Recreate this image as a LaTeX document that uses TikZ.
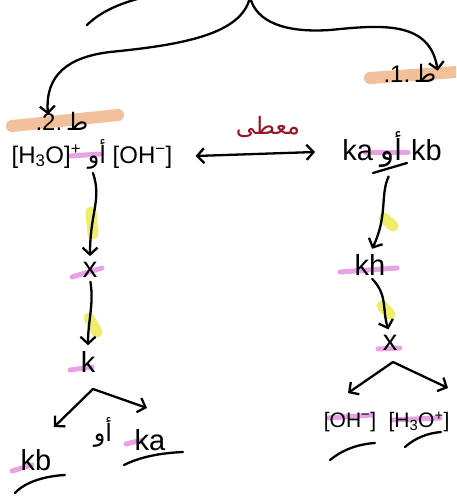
\documentclass[tikz,border=0pt]{standalone}
\usepackage{fontspec}
\setmainfont{Liberation Sans}
\newfontfamily\arabicfont[Script=Arabic]{DejaVu Sans}
\TeXXeTstate=1
\usetikzlibrary{arrows.meta}
\newcommand{\artxt}[1]{{\arabicfont\beginR #1\endR}}
\definecolor{hlpinkc}{RGB}{220,100,215}
\definecolor{hlyellowc}{RGB}{235,230,60}
\definecolor{hlorangec}{RGB}{235,150,90}
\definecolor{givenred}{RGB}{150,20,35}
\tikzset{
  ink/.style={draw=black, line width=2.3pt, line cap=round, line join=round},
  arr/.style={ink, -{Straight Barb[length=7pt,width=15pt]}},
  darr/.style={ink, {Straight Barb[length=7pt,width=15pt]}-{Straight Barb[length=7pt,width=15pt]}},
  lbl/.style={font=\fontsize{29}{33}\selectfont, inner sep=1pt},
  mlbl/.style={font=\fontsize{24}{28}\selectfont, inner sep=1pt},
  slbl/.style={font=\fontsize{21}{25}\selectfont, inner sep=1pt},
  hlpink/.style={draw=hlpinkc, line width=5pt, opacity=0.6, line cap=round},
  hlyellow/.style={draw=hlyellowc, line width=11pt, opacity=0.75, line cap=round},
  hlorange/.style={draw=hlorangec, line width=12pt, opacity=0.6, line cap=round},
}
\begin{document}
\begin{tikzpicture}[x=1pt,y=-1pt]
\useasboundingbox (0,0) rectangle (456,498);
\clip (0,0) rectangle (456,498);
\fill[white] (0,0) rectangle (456,498);

% highlights
\draw[hlorange] (12,126) -- (118,115);
\draw[hlorange] (370,78) -- (456,72);
\draw[hlpink] (70,156) -- (100,154);
\draw[hlpink] (365,152) -- (408,152);
\draw[hlpink] (72,277) -- (102,268);
\draw[hlpink] (70,370) -- (92,367);
\draw[hlpink] (12,471) -- (32,465);
\draw[hlpink] (126,444) -- (142,440);
\draw[hlpink] (340,272) -- (397,268);
\draw[hlpink] (378,349) -- (400,348);
\draw[hlpink] (328,418) -- (372,415);
\draw[hlpink] (392,420) -- (440,418);
\draw[hlyellow] (91,212) -- (93,234);
\draw[hlyellow] (89,318) -- (97,332);
\draw[hlyellow] (384,218) -- (393,226);
\draw[hlyellow] (382,306) -- (390,314);

% nodes
\node[mlbl] (h1) at (410,73) {.1.\,\artxt{ط}};
\node[mlbl] (h2) at (62,121) {.2.\,\artxt{ط}};
\node[mlbl] (L1) at (92,154) {[H\textsubscript{3}O]\textsuperscript{+} \artxt{أو} [OH\textsuperscript{−}]};
\node[lbl] (R1) at (392,150) {ka \artxt{أو} kb};
\node[mlbl, text=givenred] (given) at (268,127) {\artxt{معطى}};
\node[lbl] (Lx) at (90,270) {x};
\node[lbl] (Lk) at (88,362) {k};
\node[lbl] (Lkb) at (36,460) {kb};
\node[mlbl] (Lor) at (103,432) {\artxt{أو}};
\node[lbl] (Lka) at (150,440) {ka};
\node[lbl] (Rkh) at (370,265) {kh};
\node[lbl] (Rx) at (390,343) {x};
\node[slbl] (ROH) at (350,422) {[OH\textsuperscript{−}]};
\node[slbl] (RH) at (419,422) {[H\textsubscript{3}O\textsuperscript{+}]};

% top brace
\coordinate (top) at (250,-3);
\draw[ink] (87,25) .. controls (100,12) and (120,3) .. (145,-3);
\draw[arr] (top) .. controls (242,35) and (180,45) .. (110,52)
  .. controls (68,57) and (45,75) .. ([xshift=-14pt,yshift=-4pt]h2.north);
\draw[arr] (top) .. controls (256,22) and (285,33) .. (330,30)
  .. controls (380,25) and (430,20) .. ([yshift=-8pt]h1.north east);

% given double arrow
\draw[darr] ([xshift=22pt,yshift=-2pt]L1.east) -- ([xshift=-26pt,yshift=-2pt]R1.west);

% left column
\draw[arr, shorten <=3pt, shorten >=5pt] (L1.south) .. controls (102,200) and (90,212) .. (Lx.north);
\draw[arr, shorten <=3pt, shorten >=5pt] (Lx.south) .. controls (94,305) and (88,320) .. (Lk.north);
\coordinate (Lapex) at (93,389);
\coordinate (Ltl) at (54,427);
\coordinate (Ltr) at (147,408);
\draw[arr] (Lapex) -- (Ltl);
\draw[arr] (Lapex) -- (Ltr);
\draw[ink] (124,465) .. controls (140,457) and (160,453) .. (183,452);
\draw[ink] (15,493) .. controls (25,482) and (45,476) .. (65,475);

% right column
\draw[arr, shorten <=8pt, shorten >=5pt] (R1.south) .. controls (380,195) and (388,215) .. (Rkh.north);
\draw[arr, shorten <=3pt, shorten >=5pt] (Rkh.south) .. controls (388,295) and (382,310) .. (Rx.north);
\coordinate (Rapex) at (393,362);
\coordinate (Rtl) at (348,393);
\coordinate (Rtr) at (448,388);
\draw[arr] (Rapex) -- (Rtl);
\draw[arr] (Rapex) -- (Rtr);
\draw[ink] (373,173) -- (407,163);
\draw[ink] (330,460) .. controls (342,450) and (358,444) .. (375,443);
\draw[ink] (405,447) .. controls (415,438) and (428,433) .. (441,432);
\end{tikzpicture}
\end{document}
